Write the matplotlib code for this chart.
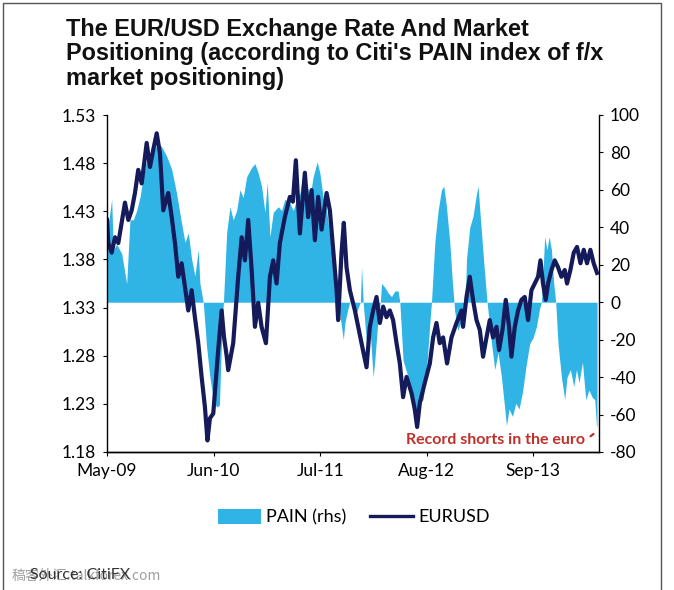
import matplotlib
matplotlib.use("Agg")
import matplotlib.pyplot as plt
from matplotlib.lines import Line2D
from matplotlib.patches import Patch, Rectangle

# ---- data (x = months since May-2009) ----
eur_months = [0.0, 0.16, 0.57, 0.98, 1.38, 1.79, 2.19, 2.60, 3.01, 3.41, 3.81, 4.23, 4.84, 5.24,
              5.64, 6.06, 6.46, 6.86, 7.47, 7.89, 8.29, 8.69, 9.10, 9.51, 9.91, 10.32, 10.72,
              11.13, 11.54, 11.94, 12.25, 12.55, 12.96, 13.28, 13.56, 13.98, 14.26, 14.59,
              14.78, 15.11, 15.39, 15.72, 16.00, 16.42, 16.82, 17.22, 17.64, 18.04, 18.44,
              18.85, 19.38, 19.87, 20.27, 20.68, 21.08, 21.69, 22.30, 22.67, 23.03, 23.52,
              24.13, 24.53, 24.95, 25.35, 25.75, 26.17, 26.78, 27.18, 27.58, 28.00, 28.19,
              28.60, 28.88, 29.21, 29.62, 30.23, 30.63, 31.04, 31.65, 32.05, 32.46, 32.87,
              33.27, 33.68, 34.09, 34.49, 34.89, 35.31, 35.71, 36.11, 36.53, 37.14, 37.54,
              37.82, 38.15, 38.76, 39.37, 39.77, 40.18, 40.58, 40.99, 41.47, 42.01, 42.62,
              43.23, 43.42, 43.84, 44.24, 44.64, 45.06, 45.46, 45.86, 46.28, 46.68, 47.08,
              47.50, 47.81, 48.23, 48.63, 49.03, 49.32, 49.73, 50.13, 50.54, 50.94, 51.35,
              51.76, 52.16, 52.57, 52.86, 53.17, 53.50, 53.79, 54.20, 54.60, 55.00, 55.42,
              55.82, 56.10, 56.51, 56.92, 57.32, 57.74, 58.14, 58.54, 58.95, 59.35, 59.76]
eur_values = [1.421, 1.397, 1.387, 1.403, 1.397, 1.418, 1.439, 1.421, 1.431, 1.449, 1.473, 1.459,
              1.501, 1.476, 1.494, 1.511, 1.490, 1.431, 1.449, 1.424, 1.397, 1.362, 1.376,
              1.351, 1.327, 1.348, 1.320, 1.293, 1.258, 1.227, 1.192, 1.215, 1.220, 1.255,
              1.286, 1.327, 1.300, 1.280, 1.265, 1.280, 1.293, 1.330, 1.362, 1.403, 1.379,
              1.421, 1.369, 1.310, 1.335, 1.310, 1.293, 1.362, 1.379, 1.355, 1.397, 1.424,
              1.445, 1.440, 1.483, 1.407, 1.470, 1.424, 1.452, 1.400, 1.445, 1.411, 1.449,
              1.431, 1.390, 1.348, 1.317, 1.387, 1.418, 1.372, 1.348, 1.327, 1.310, 1.293,
              1.268, 1.310, 1.327, 1.341, 1.314, 1.331, 1.320, 1.327, 1.317, 1.293, 1.272,
              1.237, 1.258, 1.241, 1.224, 1.206, 1.231, 1.252, 1.272, 1.299, 1.314, 1.293,
              1.299, 1.272, 1.299, 1.314, 1.327, 1.310, 1.341, 1.362, 1.338, 1.317, 1.307,
              1.279, 1.299, 1.317, 1.299, 1.310, 1.286, 1.307, 1.338, 1.310, 1.279, 1.310,
              1.327, 1.338, 1.341, 1.317, 1.348, 1.355, 1.362, 1.379, 1.355, 1.338, 1.355,
              1.369, 1.379, 1.372, 1.362, 1.369, 1.355, 1.369, 1.387, 1.393, 1.376, 1.390,
              1.376, 1.390, 1.376, 1.366]

pain_months = [0.0, 0.24, 0.57, 0.77, 1.18, 1.79, 2.40, 2.80, 3.21, 3.62, 4.02, 4.42, 4.84,
               5.64, 6.25, 6.67, 7.28, 7.89, 8.49, 9.10, 9.51, 9.91, 10.32, 10.72, 11.13,
               11.33, 11.74, 12.15, 12.55, 12.96, 13.37, 13.71, 13.89, 14.08, 14.20, 14.59,
               14.99, 15.39, 15.81, 16.21, 16.61, 17.03, 17.64, 18.04, 18.44, 18.85, 19.26,
               19.54, 19.87, 20.27, 20.88, 21.29, 21.69, 22.30, 22.71, 23.12, 23.52, 23.92,
               24.34, 24.74, 25.14, 25.63, 25.96, 26.36, 26.78, 27.18, 27.58, 28.00, 28.19,
               28.60, 28.82, 29.01, 29.41, 29.74, 30.23, 30.63, 30.90, 31.04, 31.24, 31.65,
               32.05, 32.46, 32.66, 33.07, 33.33, 33.48, 33.88, 34.28, 34.70, 35.10, 35.50,
               35.71, 36.11, 36.72, 37.33, 37.75, 38.15, 38.55, 39.04, 39.37, 39.57, 39.98,
               40.38, 40.79, 41.07, 41.40, 41.80, 42.13, 42.41, 42.78, 43.42, 43.69, 43.84,
               44.24, 44.64, 45.06, 45.25, 45.55, 45.95, 46.35, 46.89, 47.29, 47.69, 48.10,
               48.51, 48.71, 49.03, 49.45, 49.85, 50.25, 50.67, 51.07, 51.55, 51.96, 52.37,
               52.77, 52.98, 53.38, 53.66, 53.91, 54.20, 54.48, 54.72, 55.00, 55.42, 55.82,
               56.10, 56.51, 56.92, 57.25, 57.56, 57.98, 58.38, 58.78, 59.20, 59.48, 59.69,
               59.76]
pain_values = [44, 44, 55, 28, 31, 26, 10, 44, 44, 49, 56, 67, 76, 81, 85, 83, 78, 71, 58, 42,
               32, 37, 23, 14, 28, 10, 0, -24, -40, -52, -56, -55, -30, -10, 0, 37, 51, 44,
               49, 60, 56, 67, 72, 74, 69, 62, 48, 64, 35, 48, 51, 49, 55, 53, 49, 55, 58,
               69, 64, 56, 67, 75, 69, 56, 49, 35, 19, 6, 0, -13, -20, -11, -3, 2, -8, -3,
               0, 19, 0, -22, -13, -40, -31, -8, 0, 10, 8, 5, 3, 6, 6, 0, -31, -40, -52,
               -63, -54, -52, -32, -11, 0, 32, 49, 60, 62, 51, 32, 10, -5, -15, -8, 0, 23,
               40, 46, 58, 62, 44, 21, 0, -22, -36, -27, -40, -57, -66, -57, -61, -54, -57,
               -48, -35, -22, -19, -13, -3, 0, 35, 28, 35, 28, 10, 0, -22, -40, -52, -40,
               -36, -45, -36, -43, -32, -52, -47, -51, -52, -66, -66]

tick_months = [0, 13, 26, 39, 52]
tick_labels = ["May-09", "Jun-10", "Jul-11", "Aug-12", "Sep-13"]
left_ticks = [1.18, 1.23, 1.28, 1.33, 1.38, 1.43, 1.48, 1.53]
right_ticks = [-80, -60, -40, -20, 0, 20, 40, 60, 80, 100]

PAIN_COLOR = "#30b4e6"
EUR_COLOR = "#141a5a"
TICK_FONT = "Lato"
TICK_SIZE = 12.5

fig = plt.figure(figsize=(6.74, 5.90), dpi=100)
fig.patch.set_facecolor("white")

ax = fig.add_axes([107 / 674, 1 - 452 / 590, (599 - 107) / 674, (452 - 115) / 590])
ax2 = ax.twinx()

# PAIN fill on right axis
ax2.fill_between(pain_months, 0, pain_values, color=PAIN_COLOR, linewidth=0)
ax2.set_ylim(-80, 100)
ax2.set_yticks(right_ticks)
ax2.set_yticklabels([str(t) for t in right_ticks], fontsize=TICK_SIZE, family=TICK_FONT,
                    color="#1a1a1a")

# EURUSD line on left axis, drawn on top
ax.plot(eur_months, eur_values, color=EUR_COLOR, linewidth=3.0, solid_joinstyle="round")
ax.set_ylim(1.18, 1.53)
ax.set_yticks(left_ticks)
ax.set_yticklabels([f"{t:.2f}" for t in left_ticks], fontsize=TICK_SIZE, family=TICK_FONT,
                   color="#1a1a1a")
ax.set_zorder(ax2.get_zorder() + 1)
ax.patch.set_visible(False)

ax.set_xlim(0, 60)
ax.set_xticks(tick_months)
ax.set_xticklabels(tick_labels, fontsize=TICK_SIZE, family=TICK_FONT, color="#1a1a1a")

for a in (ax, ax2):
    a.spines["top"].set_visible(False)
    for s in ("left", "right", "bottom"):
        a.spines[s].set_color("black")
        a.spines[s].set_linewidth(1.0)
ax.tick_params(axis="both", direction="out", length=3, width=0.8, colors="black", pad=5)
ax2.tick_params(axis="y", direction="out", length=3, width=0.8, colors="black", pad=5)
ax.spines["right"].set_visible(False)
ax2.spines["left"].set_visible(False)

# annotation
ax2.text(58.3, -73.5, "Record shorts in the euro", color="#c0302a", fontsize=11.5,
         fontweight="bold", family=TICK_FONT, ha="right", va="center")
ax2.annotate("", xy=(59.6, -69.5), xytext=(58.7, -72.5),
             arrowprops=dict(arrowstyle="-", color="#c0302a", lw=1.6))

# title
fig.text(66 / 674, 1 - 18 / 590,
         "The EUR/USD Exchange Rate And Market\nPositioning (according to Citi's PAIN index of f/x\nmarket positioning)",
         fontsize=16.9, fontweight="bold", family="Liberation Sans", ha="left", va="top",
         linespacing=1.07, color="#111111")

# legend
handles = [Patch(facecolor=PAIN_COLOR, edgecolor="none", label="PAIN (rhs)"),
           Line2D([0], [0], color=EUR_COLOR, lw=2.4, label="EURUSD")]
fig.legend(handles=handles, loc="center", bbox_to_anchor=(354 / 674, 1 - 517 / 590), ncol=2,
           frameon=False, prop={"family": TICK_FONT, "size": 13}, handlelength=2.4,
           handleheight=0.9, columnspacing=1.3, handletextpad=0.3)

# source + watermark (overlapping in the reference image)
fig.text(12 / 674, 1 - 576 / 590, "稿客外汇.talkforex.com", fontsize=10, color="#888888",
         family=["Noto Sans CJK SC", "DejaVu Sans"], ha="left", va="center", alpha=0.8)
fig.text(30 / 674, 1 - 575 / 590, "Source: CitiFX", fontsize=11.5, color="#333333",
         family=TICK_FONT, ha="left", va="center")

# outer frame
fig.add_artist(Rectangle((3 / 674, -0.01), (661 - 3) / 674, 1 - 3 / 590 + 0.01,
                         transform=fig.transFigure, fill=False, edgecolor="#555555", lw=1.0))

fig.savefig("out.png", dpi=100, facecolor="white")
